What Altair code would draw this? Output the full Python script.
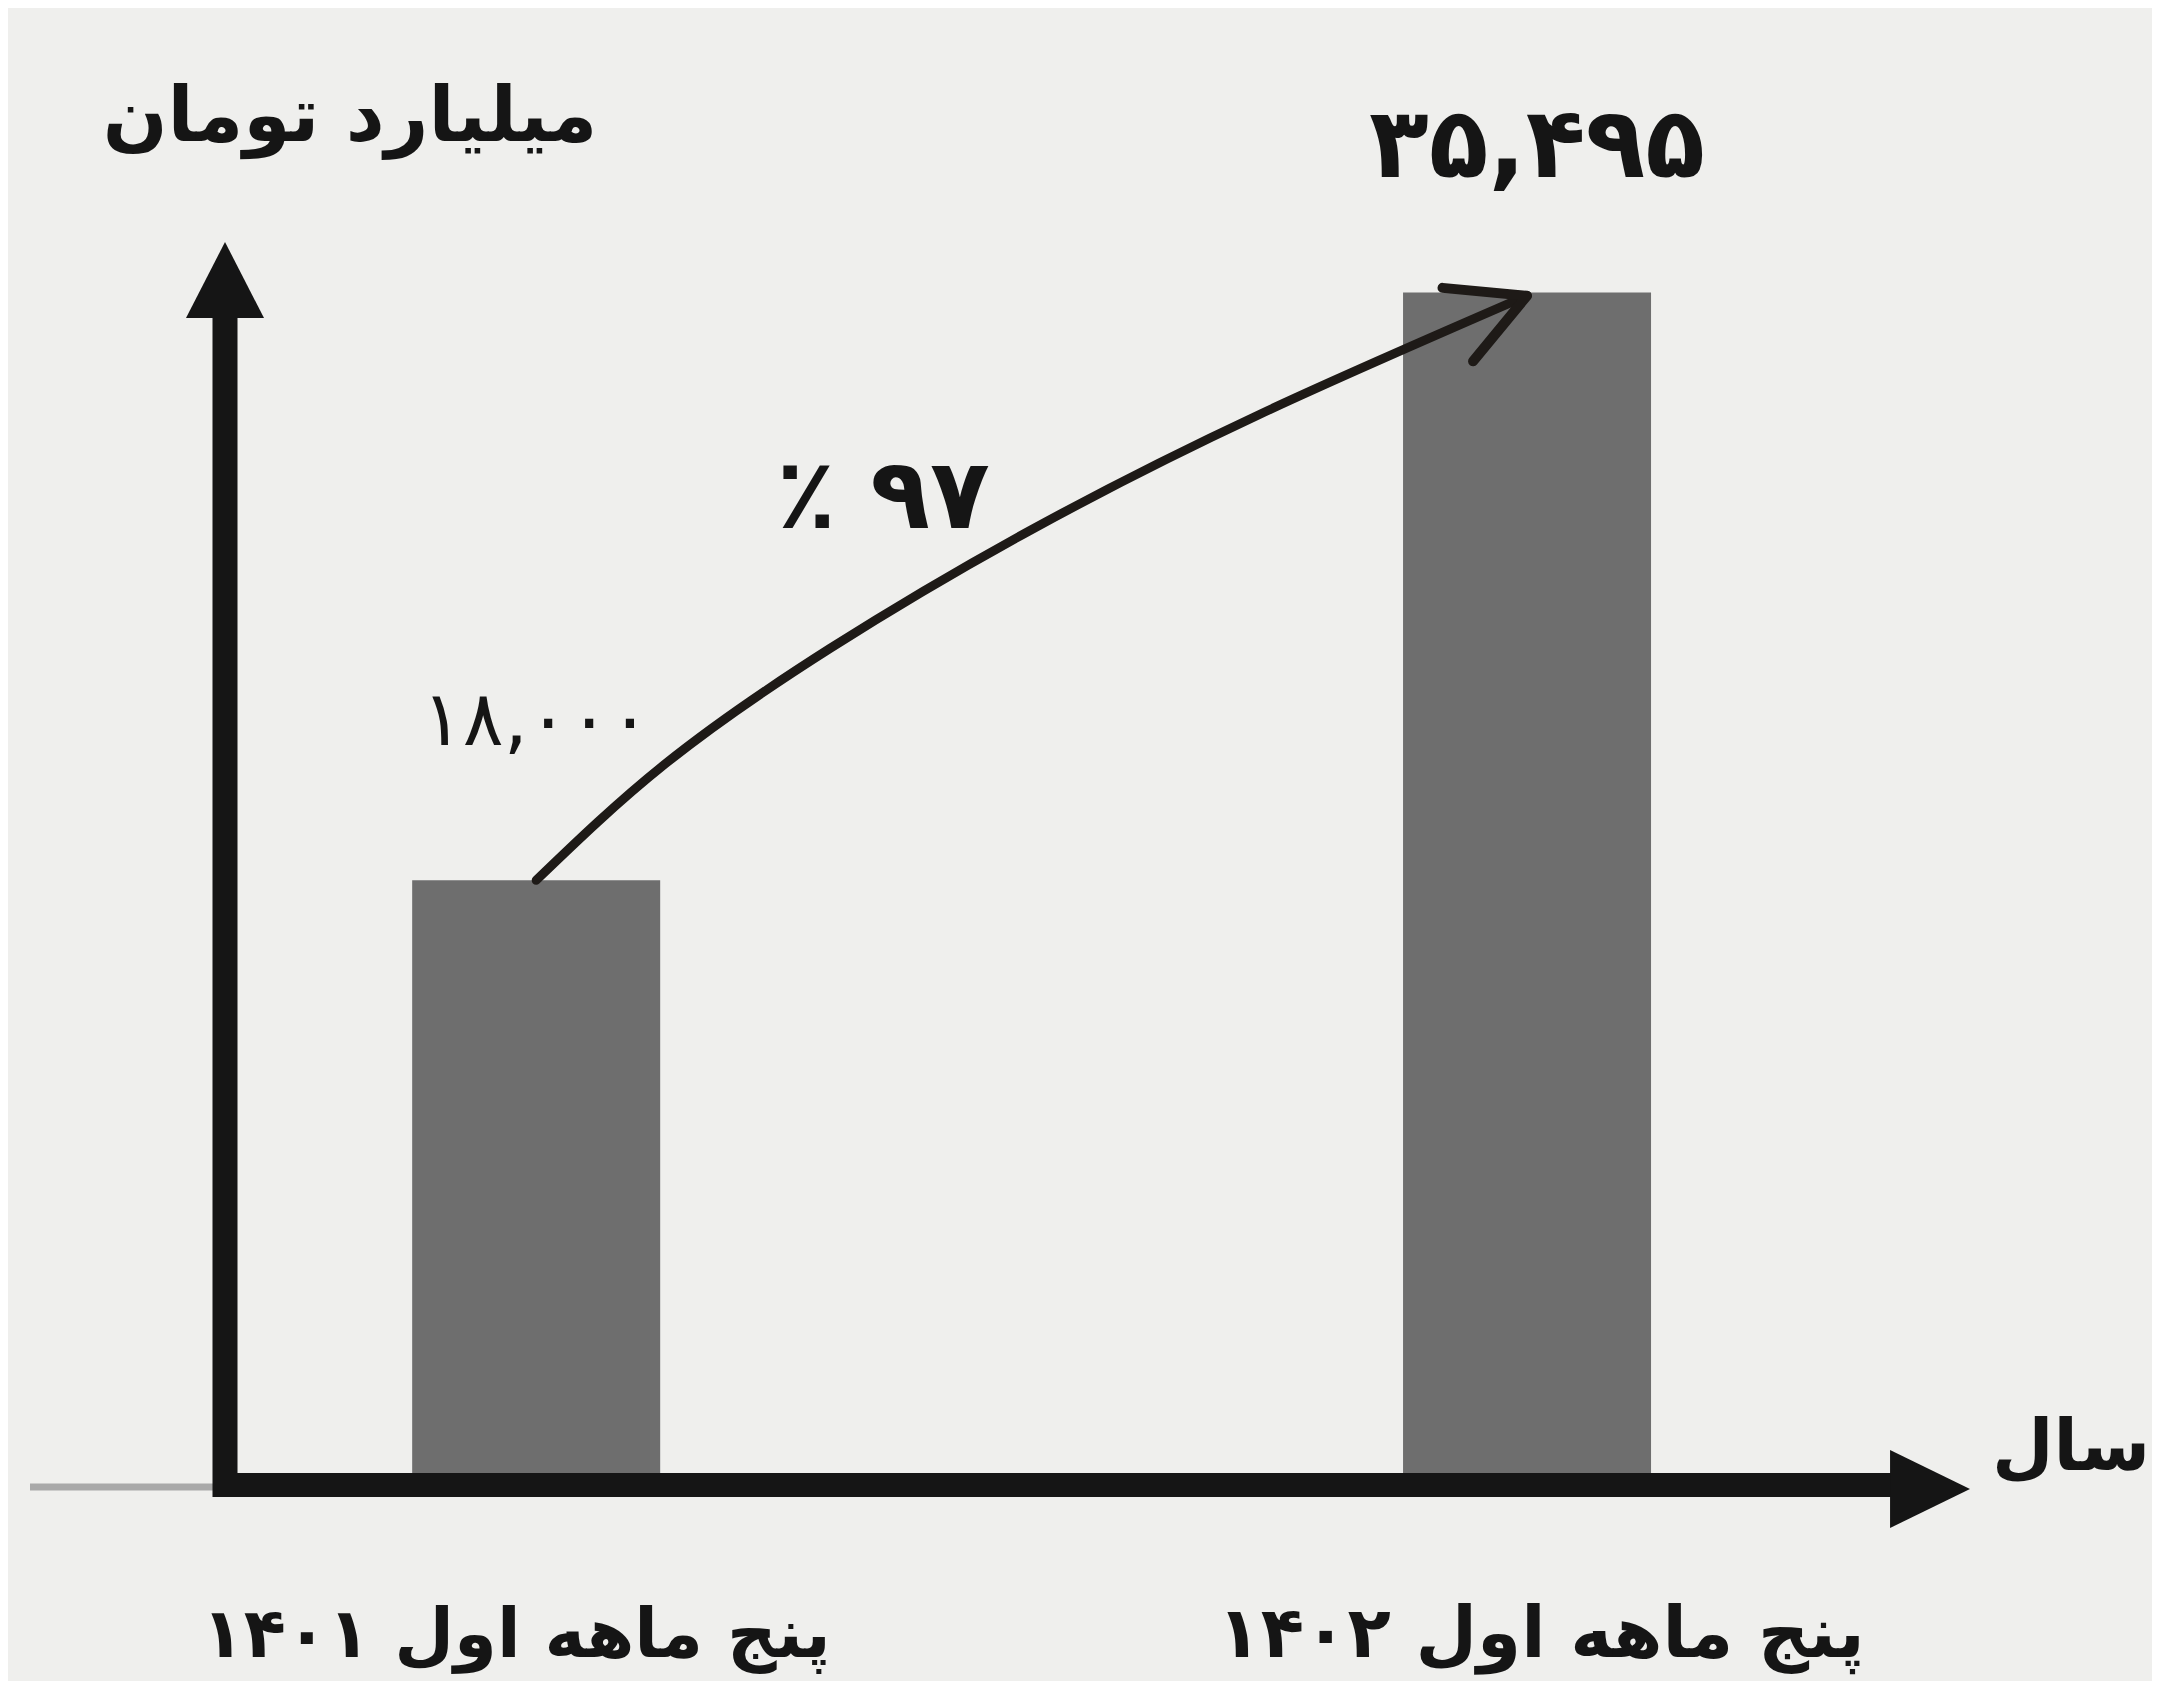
import altair as alt
import pandas as pd

# ---- data ----
categories = ["پنج ماهه اول ۱۴۰۱", "پنج ماهه اول ۱۴۰۲"]
positions = [0, 1]
values = [18000, 35495]
value_labels = ["۱۸,۰۰۰", "۳۵,۴۹۵"]

y_title = "میلیارد تومان"
x_title = "سال"
growth_label = "٪ ۹۷"

# path of the curved growth arrow (position, value)
curve_x = [0.0, 0.130, 0.297, 0.497, 0.731, 1.0]
curve_y = [18000, 21460, 24910, 28390, 31880, 35400]

# ---- layout ----
W, H = 1745, 1243
FONT = "DejaVu Sans"
INK = "#151515"
BG = "#efefed"

xs = alt.Scale(domain=[-0.309, 1.442], nice=False, zero=False)
ys = alt.Scale(domain=[0, 37000], nice=False, zero=True)

bars_df = pd.DataFrame({"pos": positions, "value": values,
                        "category": categories, "label": value_labels})
curve_df = pd.DataFrame({"pos": curve_x, "value": curve_y})
tip_df = pd.DataFrame({"pos": [curve_x[-1]], "value": [curve_y[-1]]})
one = pd.DataFrame({"k": [0]})

X = alt.X("pos:Q", scale=xs, axis=None)
Y = alt.Y("value:Q", scale=ys, axis=None)

bars = alt.Chart(bars_df).mark_bar(size=248, color="#6e6e6e").encode(x=X, y=Y)

curve = alt.Chart(curve_df).mark_line(
    interpolate="natural", color="#1e1a17", strokeWidth=9, strokeCap="round"
).encode(x=X, y=Y)

chevron = alt.Chart(tip_df).mark_point(
    shape="M -1 -0.53 L 0 0 L -1 0.53", size=22500, filled=False,
    color="#1e1a17", strokeWidth=10, angle=337.4, opacity=1, strokeCap="round",
    strokeJoin="round"
).encode(x=X, y=Y)

thin_line = alt.Chart(one).mark_rule(color="#a9a9a9", strokeWidth=7).encode(
    x=alt.value(-195), x2=alt.value(-12), y=alt.value(H + 2))
y_axis = alt.Chart(one).mark_rule(color=INK, strokeWidth=25).encode(
    x=alt.value(0), y=alt.value(70), y2=alt.value(H + 12))
x_axis = alt.Chart(one).mark_rule(color=INK, strokeWidth=24).encode(
    x=alt.value(-12), x2=alt.value(W - 75), y=alt.value(H))
y_head = alt.Chart(one).mark_point(
    shape="M 0 0 L 1 1.95 L -1 1.95 Z", size=6084, filled=True,
    color=INK, opacity=1, strokeWidth=0
).encode(x=alt.value(0), y=alt.value(0))
x_head = alt.Chart(one).mark_point(
    shape="M 0 0 L -2.05 -1 L -2.05 1 Z", size=6084, filled=True,
    color=INK, opacity=1, strokeWidth=0
).encode(x=alt.value(W), y=alt.value(H + 4))

y_title_txt = alt.Chart(one).mark_text(
    text=y_title, font=FONT, fontSize=76, fontWeight="bold", color=INK,
    align="center", baseline="middle"
).encode(x=alt.value(125), y=alt.value(-124))
x_title_txt = alt.Chart(one).mark_text(
    text=x_title, font=FONT, fontSize=71, fontWeight="bold", color=INK,
    align="center", baseline="middle"
).encode(x=alt.value(1846), y=alt.value(1207))

lab_first = alt.Chart(bars_df).transform_filter("datum.pos == 0").mark_text(
    font=FONT, fontSize=76, color=INK, align="center", baseline="alphabetic", dy=-135
).encode(x=X, y=Y, text="label:N")
lab_second = alt.Chart(bars_df).transform_filter("datum.pos == 1").mark_text(
    font=FONT, fontSize=98, fontWeight="bold", color=INK, align="center",
    baseline="alphabetic", dy=-116, dx=10
).encode(x=X, y=Y, text="label:N")

cat_first = alt.Chart(bars_df).transform_filter("datum.pos == 0").mark_text(
    font=FONT, fontSize=69, fontWeight="bold", color=INK, align="center",
    baseline="middle", dx=-20
).encode(x=X, y=alt.value(H + 151), text="category:N")
cat_second = alt.Chart(bars_df).transform_filter("datum.pos == 1").mark_text(
    font=FONT, fontSize=71, fontWeight="bold", color=INK, align="center",
    baseline="middle", dx=14
).encode(x=X, y=alt.value(H + 151), text="category:N")

growth = alt.Chart(one).mark_text(
    text=growth_label, font=FONT, fontSize=98, fontWeight="bold", color=INK,
    align="center", baseline="alphabetic"
).encode(x=alt.datum(0.350), y=alt.datum(28480))

chart = alt.layer(
    bars, curve, chevron, thin_line, y_axis, x_axis, y_head, x_head,
    y_title_txt, x_title_txt, lab_first, lab_second, cat_first, cat_second, growth
).properties(
    width=W, height=H,
    padding={"left": 217, "top": 234, "right": 182, "bottom": 196},
    autosize=alt.AutoSizeParams(type="none"),
    background=BG,
).configure_view(stroke=None)

chart.save("out.html", embed_options={"renderer": "svg", "actions": False})
